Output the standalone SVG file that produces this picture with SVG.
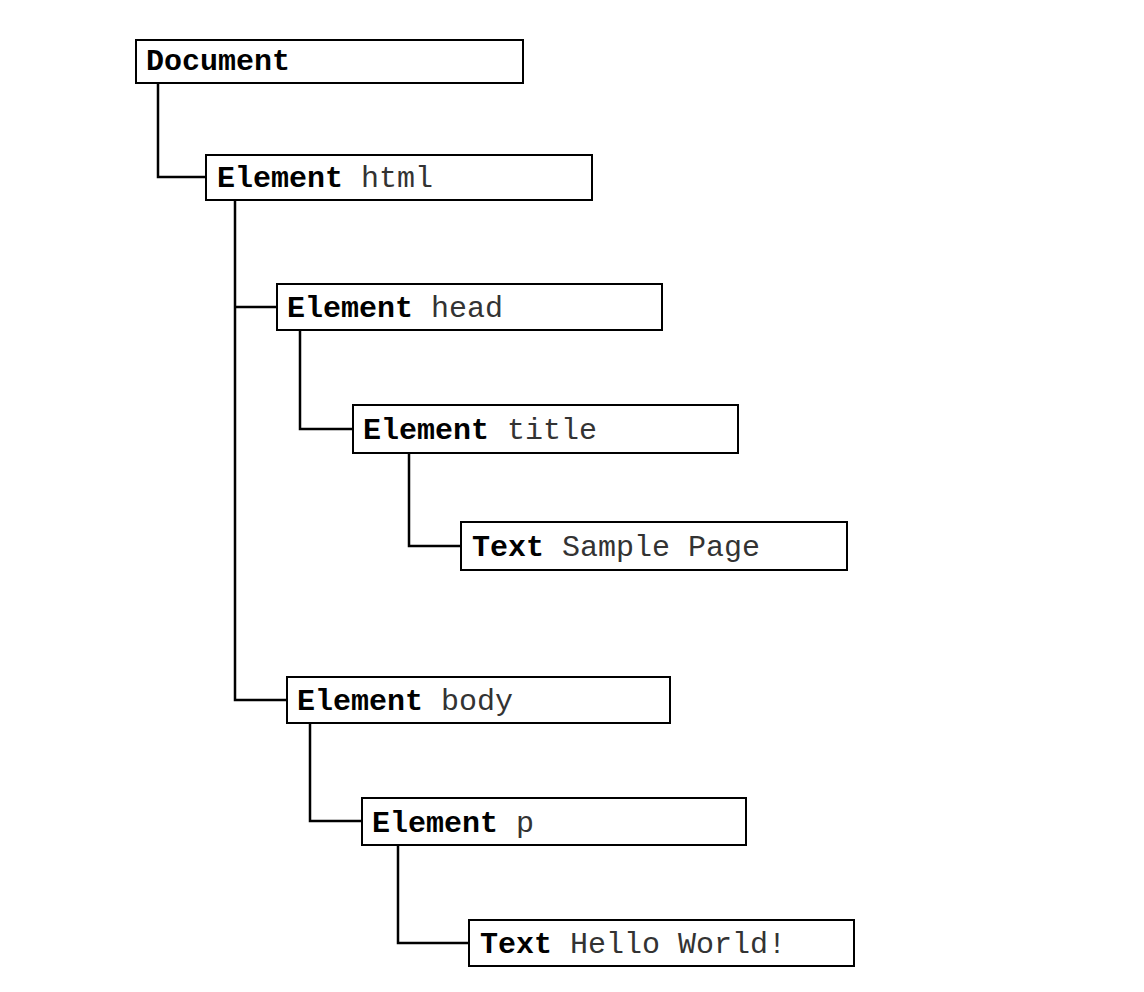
<svg xmlns="http://www.w3.org/2000/svg" width="1144" height="992" viewBox="0 0 1144 992">
<style>
.box{fill:#fff;stroke:#000;stroke-width:2}
.c{fill:none;stroke:#000;stroke-width:2.5}
text{font-family:"Liberation Mono",monospace;font-size:30px;fill:#000}
.b{font-weight:bold}
.n{fill:#333}
</style>
<rect width="1144" height="992" fill="#fff"/>
<g id="connectors">
<path class="c" d="M158 83V177H206"/>
<path class="c" d="M235 200V700H287M235 307H277"/>
<path class="c" d="M300 330V429H353"/>
<path class="c" d="M409 453V546H461"/>
<path class="c" d="M310 723V821H362"/>
<path class="c" d="M398 845V943H469"/>
</g>
<g id="document"><rect class="box" x="136" y="40" width="387" height="43"/><text x="146" y="70" class="b">Document</text></g>
<g id="html"><rect class="box" x="206" y="155" width="386" height="45"/><text x="217" y="187"><tspan class="b">Element</tspan> <tspan class="n">html</tspan></text></g>
<g id="head"><rect class="box" x="277" y="284" width="385" height="46"/><text x="287" y="317"><tspan class="b">Element</tspan> <tspan class="n">head</tspan></text></g>
<g id="title"><rect class="box" x="353" y="405" width="385" height="48"/><text x="363" y="439"><tspan class="b">Element</tspan> <tspan class="n">title</tspan></text></g>
<g id="text1"><rect class="box" x="461" y="522" width="386" height="48"/><text x="472" y="556"><tspan class="b">Text</tspan> <tspan class="n">Sample Page</tspan></text></g>
<g id="body"><rect class="box" x="287" y="677" width="383" height="46"/><text x="297" y="710"><tspan class="b">Element</tspan> <tspan class="n">body</tspan></text></g>
<g id="p"><rect class="box" x="362" y="798" width="384" height="47"/><text x="372" y="832"><tspan class="b">Element</tspan> <tspan class="n">p</tspan></text></g>
<g id="text2"><rect class="box" x="469" y="920" width="385" height="46"/><text x="480" y="953"><tspan class="b">Text</tspan> <tspan class="n">Hello World!</tspan></text></g>
</svg>
